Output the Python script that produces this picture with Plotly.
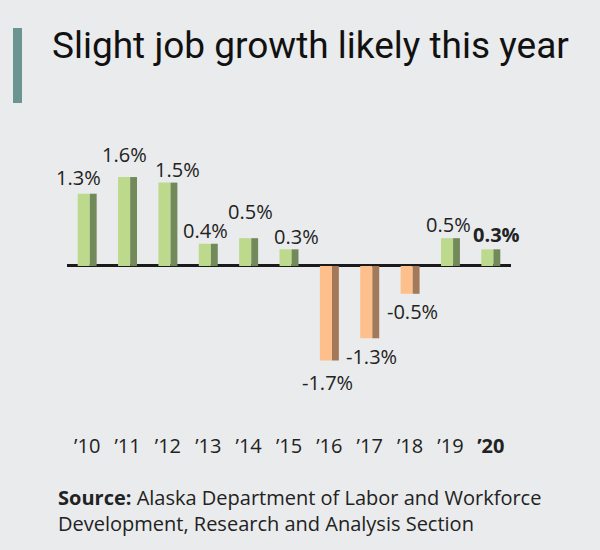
import plotly.graph_objects as go

years = ["’10", "’11", "’12", "’13", "’14", "’15", "’16", "’17", "’18", "’19", "’20"]
growth = [1.3, 1.6, 1.5, 0.4, 0.5, 0.3, -1.7, -1.3, -0.5, 0.5, 0.3]
tick_text = ["’10", "’11", "’12", "’13", "’14", "’15", "’16", "’17", "’18", "’19", "<b>’20</b>"]
value_labels = ["1.3%", "1.6%", "1.5%", "0.4%", "0.5%", "0.3%", "-1.7%", "-1.3%", "-0.5%", "0.5%", "<b>0.3%</b>"]

# label nudges in pixels (styling only)
label_dx = [-9, -3, 10, -3, 2, 7, -2, 2, 2, -2, 6]
label_dy = [16, 23, 13, 13, 27, 13, -22, -18, -18, 14, 15]

W, H = 600, 550
L, R, T, B = 67, 89, 127, 120
BG = "#e9ebec"

light = ["#bcd98c" if v >= 0 else "#fdc08c" for v in growth]
dark = ["#72895a" if v >= 0 else "#a3795a" for v in growth]

fig = go.Figure()
fig.add_trace(go.Bar(x=years, y=growth, width=0.30, offset=-0.235,
                     marker=dict(color=light, line=dict(width=0)), hoverinfo="skip"))
fig.add_trace(go.Bar(x=years, y=growth, width=0.17, offset=0.065,
                     marker=dict(color=dark, line=dict(width=0)), hoverinfo="skip"))

for i, (yr, v, lab) in enumerate(zip(years, growth, value_labels)):
    fig.add_annotation(x=yr, y=v, text=lab, showarrow=False, xshift=label_dx[i],
                       yshift=label_dy[i], font=dict(family="Open Sans", size=20, color="#222"),
                       xanchor="center", yanchor="middle")

pw = W - L - R
ph = H - T - B
def px_x(px):
    return (px - L) / pw
def px_y(py):
    return (H - B - py) / ph

fig.add_shape(type="rect", xref="paper", yref="paper",
              x0=px_x(13), x1=px_x(22), y0=px_y(103), y1=px_y(28),
              fillcolor="#6a9590", line=dict(width=0))

source_text = ("<b>Source:</b> Alaska Department of Labor and Workforce<br>"
               "Development, Research and Analysis Section")
fig.add_annotation(xref="paper", yref="paper", x=px_x(56), y=px_y(510),
                   text=source_text, showarrow=False, xanchor="left", yanchor="middle", align="left",
                   font=dict(family="Open Sans", size=20, color="#222"))

fig.update_layout(
    width=W, height=H,
    margin=dict(l=L, r=R, t=T, b=B, pad=0),
    paper_bgcolor=BG, plot_bgcolor=BG,
    barmode="overlay", showlegend=False,
    title=dict(text="Slight job growth likely this year", x=52 / W, xanchor="left",
               y=1 - 45 / H, yanchor="middle",
               font=dict(family="Roboto", size=37, color="#111")),
    xaxis=dict(type="category", range=[-0.5, 10.5], tickmode="array", tickvals=years, ticktext=tick_text,
               showgrid=False, showline=False, ticks="", zeroline=False, ticklabelstandoff=2,
               tickfont=dict(family="Open Sans", size=20, color="#222")),
    yaxis=dict(range=[-2.95, 2.5], showgrid=False, showticklabels=False, ticks="",
               zeroline=True, zerolinecolor="#1a1a1a", zerolinewidth=3, showline=False),
)

fig.write_html("out.html")
